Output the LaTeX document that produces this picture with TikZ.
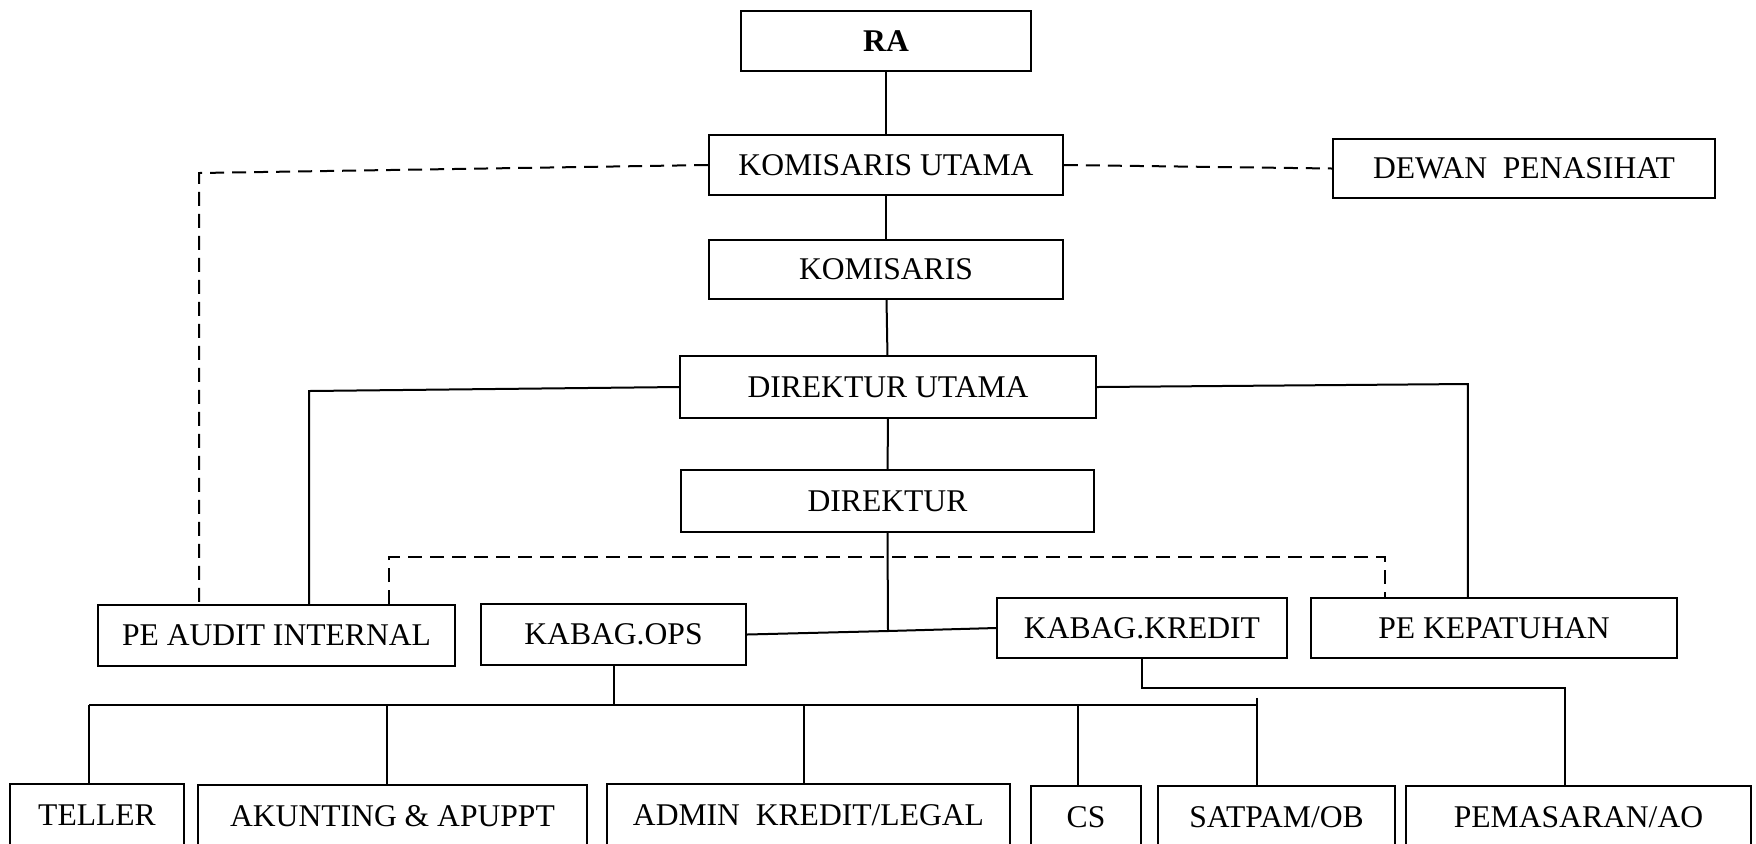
\documentclass[tikz,border=0pt]{standalone}
\usepackage{fontspec}
\setmainfont{Liberation Serif}
\usepackage{tikz}
\usetikzlibrary{positioning}
\tikzset{box/.style = {draw, line width = 0.9pt, inner sep = 0, minimum height = 30pt,
                       font = \fontsize{15.8}{19}\selectfont}}
\tikzset{link/.style = {line width = 1pt}}
\tikzset{dashln/.style = {line width = 1pt, dash pattern = on 7pt off 4pt}}
\begin{document}
\begin{tikzpicture}[x = 0.5pt, y = -0.5pt]
      \useasboundingbox (0, 0) rectangle (1756, 843);
      \clip (0, 0) rectangle (1756, 843);
      \node [box, minimum width = 145pt] (ra) at (886, 41) {\textbf{RA}};
      \node [box, minimum width = 177pt] (ku) at (886, 165) {KOMISARIS UTAMA};
      \node [box, minimum width = 191pt, minimum height = 29.5pt] (dewan) at (1524, 168.5) {DEWAN\ \ PENASIHAT};
      \node [box, minimum width = 177pt, minimum height = 29.5pt] (kom) at (886, 269.5) {KOMISARIS};
      \node [box, minimum width = 208pt, minimum height = 31pt] (du) at (888, 387) {DIREKTUR UTAMA};
      \node [box, minimum width = 206.5pt, minimum height = 31pt] (dir) at (887.5, 501) {DIREKTUR};
      \node [box, minimum width = 178.5pt, minimum height = 30.5pt] (audit) at (276.5, 635.5) {PE AUDIT INTERNAL};
      \node [box, minimum width = 132.5pt, minimum height = 30.5pt] (ops) at (613.5, 634.5) {KABAG.OPS};
      \node [box, minimum width = 145pt] (kredit) at (1142, 628) {KABAG.KREDIT};
      \node [box, minimum width = 183pt] (kepat) at (1494, 628) {PE KEPATUHAN};
      \node [box, minimum width = 87pt, minimum height = 31pt] (teller) at (97, 815) {TELLER};
      \node [box, minimum width = 194.5pt, minimum height = 31pt] (akun) at (392.5, 816) {AKUNTING \& APUPPT};
      \node [box, minimum width = 201.5pt, minimum height = 31pt] (admin) at (808.5, 815) {ADMIN\ \ KREDIT/LEGAL};
      \node [box, minimum width = 55pt, minimum height = 31pt] (cs) at (1086, 817) {CS};
      \node [box, minimum width = 118.5pt, minimum height = 31pt] (satpam) at (1276.5, 817) {SATPAM/OB};
      \node [box, minimum width = 172.5pt, minimum height = 31pt] (pemas) at (1578.5, 817) {PEMASARAN/AO};
      \draw [link] (ra) -- (ku);
      \draw [link] (ku) -- (kom);
      \draw [link] (kom) -- (du);
      \draw [link] (du) -- (dir);
      \draw [dashln] (ku.east) -- (dewan.west);
      \coordinate (ca) at (199, 173);
      \draw [dashln] (ku.west) -- (ca) -- (ca |- audit.north);
      \draw [link] (du.west) -- ++(-370, 4) coordinate (cb) -- (cb |- audit.north);
      \draw [link] (du.east) -- ++(371, -3) coordinate (cc) -- (cc |- kepat.north);
      \coordinate (j) at (888, 631);
      \draw [link] (dir.south) -- (j);
      \draw [link] (ops.east) -- (j) -- (kredit.west);
      \draw [dashln] ([xshift = 56.25pt]audit.north) -- ++(0, -47) -| ([xshift = -54.5pt]kepat.north);
      \path (ops.south) ++(0, 39) coordinate (bus);
      \coordinate (sp) at ([xshift = -9.75pt]satpam.north);
      \draw [link] (ops.south) -- (bus);
      \draw [link] ([xshift = -4pt]bus -| teller.north) -- (bus -| sp);
      \foreach \n/\d in {teller/-4, akun/-2.75, admin/-2.25, cs/-4} {
        \draw [link] ([xshift = \d pt]bus -| \n.north) -- ([xshift = \d pt]\n.north);
      }
      \draw [link] ([yshift = 3.5pt]bus -| sp) -- (sp);
      \draw [link] (kredit.south) -- ++(0, 29) -| ([xshift = -6.75pt]pemas.north);
    \end{tikzpicture}
\end{document}
